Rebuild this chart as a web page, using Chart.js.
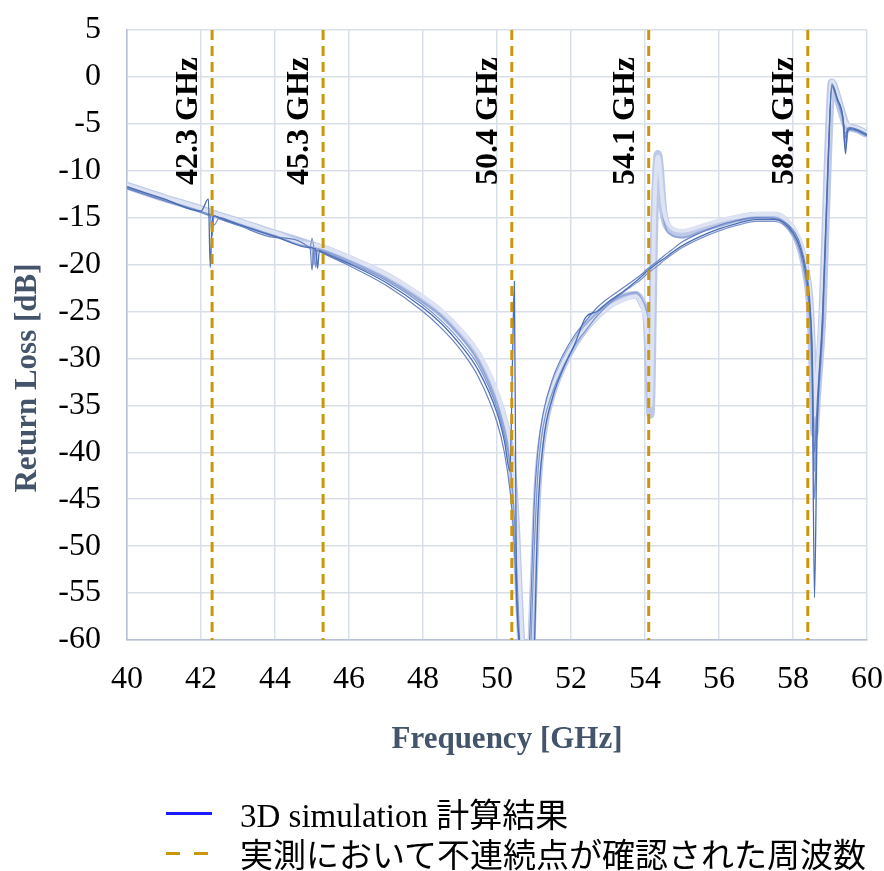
<!DOCTYPE html>
<html>
<head>
<meta charset="utf-8">
<script src="https://cdn.jsdelivr.net/npm/chart.js@4"></script>
<style>
  html, body { margin: 0; padding: 0; background: #fff; }
  #wrap { position: relative; width: 884px; height: 871px; }
  #legend { position: absolute; left: 166px; top: 793px; font-family: "Liberation Serif", "Noto Sans CJK JP", serif; font-size: 33px; color: #000; }
  .row { display: flex; align-items: center; height: 40px; white-space: nowrap; }
  .sym { width: 46px; margin-right: 28px; height: 3px; }
  .solid { background: #1a1aff; }
  .dash { background: linear-gradient(to right, #c9960c 0 14px, transparent 14px 28px, #c9960c 28px 42px, transparent 42px); }
</style>
</head>
<body>
<div id="wrap">
  <canvas id="rlChart" width="884" height="871"></canvas>
  <div id="legend">
    <div class="row"><span class="sym solid"></span><span>3D simulation 計算結果</span></div>
    <div class="row"><span class="sym dash"></span><span>実測において不連続点が確認された周波数</span></div>
  </div>
</div>
<script>
// frequency points [GHz], shared by all simulation curves
const freq = [
    40, 41, 42, 42.2, 42.25, 42.3, 42.35, 42.5,
    43, 44, 44.95, 45.0, 45.05, 45.1, 45.15, 45.2, 45.3, 46,
    47, 48, 48.5, 49, 49.5, 50, 50.2, 50.35, 50.42, 50.47, 50.52,
    50.6, 50.7, 50.8, 50.9, 51.0, 51.1, 51.25, 51.5, 51.8, 52.1, 52.4, 52.7, 53, 53.4,
    53.75, 53.95, 54.05, 54.15, 54.25, 54.35, 54.5, 54.7, 55, 55.5, 56, 56.5, 57, 57.5,
    58, 58.2, 58.35, 58.45, 58.52, 58.58, 58.65, 58.8, 58.95,
    59.05, 59.2, 59.35, 59.42, 59.47, 59.55, 59.75, 60
];

// return loss [dB] of each simulated variant
const simA = [
    -11.6, -12.9, -14.1, -14.4, -14.5, -14.6, -14.6, -14.8,
    -15.4, -16.7, -17.9, -18.0, -18.0, -18.1, -18.1, -18.2, -18.3, -19.4,
    -21.2, -23.7, -25.2, -27.2, -29.8, -34.2, -36.8, -39.5, -42.2, -45, -48.5,
    -56, -63, -65, -63, -53, -43.5, -37.8, -33.6, -30.6, -28.4, -26.7, -25.4, -24.4, -23.5,
    -23.2, -24.3, -26, -36, -16, -8.2, -14.5, -16.3, -16.8, -16.2, -15.6, -15.1, -14.8, -14.8,
    -16.4, -18.2, -20.8, -24, -30, -38, -34, -25, -8,
    -0.6, -2.2, -4.2, -5, -5.3, -5.4, -5.6, -6.1
];
const simB = [
    -11.8, -13.0, -14.3, -14.5, -14.6, -14.7, -14.7, -14.9,
    -15.6, -16.9, -18.0, -18.1, -20.0, -18.2, -18.3, -18.4, -18.5, -19.6,
    -21.5, -24.0, -25.5, -27.6, -30.3, -34.8, -37.5, -40.3, -43, -46, -50,
    -58, -64, -66, -60, -49, -41.5, -36.5, -32.8, -30.0, -28.0, -26.4, -25.2, -24.2, -23.3,
    -23.0, -24.0, -25.5, -34, -13, -8.6, -15, -16.8, -17.1, -16.5, -15.9, -15.3, -15.0, -15.0,
    -16.7, -18.6, -21.5, -25, -32, -42, -36, -26, -9,
    -1.0, -2.5, -4.5, -7.5, -6, -5.6, -5.8, -6.3
];
const simC = [
    -11.7, -13.0, -14.3, -13.0, -20.3, -15.5, -14.8, -15.0,
    -15.7, -17.0, -18.2, -18.2, -18.3, -18.3, -20.4, -18.5, -18.7, -19.9,
    -21.9, -24.6, -26.3, -28.5, -31.3, -35.8, -38.8, -42, -30, -21.8, -52,
    -60, -65, -66, -66, -62, -47, -39, -34.2, -31, -28.5, -25.6, -25, -24.0, -22.9,
    -21.8, -21.1, -20.7, -20.4, -20.1, -19.8, -19.4, -18.8, -18.0, -17.0, -16.2, -15.6, -15.2, -15.2,
    -16.6, -18.3, -21, -24.5, -31, -55.5, -38, -26, -9,
    -0.9, -2.4, -4.4, -8.2, -5.8, -5.5, -5.7, -6.2
];
const simD = [
    -11.9, -13.2, -14.4, -14.7, -14.7, -17, -14.8, -15.1,
    -15.8, -17.1, -18.3, -20.6, -18.4, -18.5, -18.5, -18.6, -18.8, -20.1,
    -22.2, -25.0, -26.8, -29.0, -32, -36.8, -40, -44, -47, -50, -55,
    -61, -66, -66, -58, -46, -40, -35.8, -32.2, -29.5, -27.5, -26.0, -24.6, -23.6, -22.5,
    -21.5, -20.9, -20.5, -20.2, -19.9, -19.6, -19.1, -18.5, -17.6, -16.6, -15.8, -15.3, -15.0, -15.1,
    -16.3, -17.9, -20.4, -23.5, -29, -40, -35, -25, -8.5,
    -0.7, -2.3, -4.3, -6.5, -5.5, -5.4, -5.6, -6.1
];
const simE = [
    -11.5, -12.8, -14.0, -14.3, -14.3, -14.4, -14.5, -14.7,
    -15.3, -16.6, -17.8, -17.8, -17.9, -17.9, -18.0, -18.0, -18.1, -19.2,
    -21.0, -23.4, -24.9, -26.9, -29.4, -33.6, -36.2, -38.8, -41.2, -43.8, -47,
    -54, -62, -64, -60, -50, -42.5, -37, -33.2, -30.4, -28.3, -26.8, -25.6, -24.6, -23.8,
    -23.4, -24.8, -27, -35, -14.5, -8.5, -14, -16.0, -16.4, -15.9, -15.3, -14.9, -14.6, -14.6,
    -16.0, -17.6, -20.2, -23, -28, -36, -32, -23, -7,
    -0.5, -2.0, -4.0, -4.9, -5.1, -5.3, -5.5, -6.0
];
const simF = [
    -11.8, -13.1, -14.4, -14.6, -14.7, -14.8, -15.8, -15.0,
    -15.7, -17.0, -18.1, -17.2, -18.2, -20.3, -18.4, -18.5, -18.6, -19.8,
    -21.7, -24.3, -26.0, -28.1, -30.8, -35.3, -38.2, -41.2, -44, -47, -51,
    -59, -65, -66, -62, -51, -42.5, -37.2, -33.6, -30.8, -28.6, -27.0, -25.5, -24.3, -23.0,
    -22.0, -21.4, -21.0, -20.7, -20.4, -20.1, -19.6, -19.0, -18.2, -17.2, -16.4, -15.8, -15.4, -15.4,
    -16.9, -18.8, -21.8, -25.5, -33, -45, -37, -27, -10,
    -1.1, -2.6, -4.6, -6, -5.7, -5.6, -5.8, -6.3
];

// frequencies where the measurement showed discontinuities
const discFreqs = [42.3, 45.3, 50.4, 54.1, 58.4];
const discLabels = ['42.3 GHz', '45.3 GHz', '50.4 GHz', '54.1 GHz', '58.4 GHz'];

const xTitle = 'Frequency [GHz]';
const yTitle = 'Return Loss [dB]';

function toPoints(ys) {
    return freq.map((f, i) => ({ x: f, y: ys[i] }));
}

function simSet(ys, color, width, order) {
    return {
        data: toPoints(ys),
        borderColor: color,
        borderWidth: width,
        pointRadius: 0,
        cubicInterpolationMode: 'monotone',
        clip: 0,
        order: order
    };
}

const datasets = [
    simSet(simA, '#bdc9e7', 8, 7),
    simSet(simB, '#94a9d9', 2, 6),
    simSet(simE, '#dde3f2', 4, 5),
    simSet(simF, '#7e96cd', 1.2, 4),
    simSet(simD, '#6883c4', 1.2, 3),
    simSet(simC, '#4a6db3', 1.3, 2)
];
discFreqs.forEach(f => {
    datasets.push({
        data: [{ x: f, y: 5 }, { x: f, y: -60 }],
        borderColor: '#c9960c',
        borderWidth: 3,
        borderDash: [10, 6],
        pointRadius: 0,
        order: 0
    });
});

const textPlugin = {
    id: 'textPlugin',
    afterDraw(chart) {
        const ctx = chart.ctx;
        const area = chart.chartArea;
        const xs = chart.scales.x;
        ctx.save();
        ctx.fillStyle = '#000';
        ctx.font = 'bold 32px "Liberation Serif"';
        ctx.textAlign = 'left';
        ctx.textBaseline = 'alphabetic';
        discFreqs.forEach((f, i) => {
            ctx.save();
            ctx.translate(xs.getPixelForValue(f) - 15, area.top + 155);
            ctx.rotate(-Math.PI / 2);
            ctx.fillText(discLabels[i], 0, 0);
            ctx.restore();
        });

        // axis titles
        ctx.fillStyle = '#44546a';
        ctx.font = 'bold 31px "Liberation Serif"';
        ctx.textAlign = 'center';
        ctx.textBaseline = 'middle';
        ctx.fillText(xTitle, (area.left + area.right) / 2 + 10, 740);
        ctx.translate(28, (area.top + area.bottom) / 2 + 43);
        ctx.rotate(-Math.PI / 2);
        ctx.fillText(yTitle, 0, 0);
        ctx.restore();
    }
};

const ctx = document.getElementById('rlChart').getContext('2d');
new Chart(ctx, {
    type: 'line',
    data: { datasets: datasets },
    plugins: [textPlugin],
    options: {
        responsive: false,
        animation: false,
        layout: { padding: { top: 30, right: 17, bottom: 101, left: 0 } },
        plugins: {
            legend: { display: false },
            tooltip: { enabled: false }
        },
        scales: {
            x: {
                type: 'linear',
                min: 40,
                max: 60,
                afterFit: scale => {
                    scale.height = 130;
                    scale.paddingLeft = 0;
                    scale.paddingRight = 0;
                },
                ticks: {
                    stepSize: 2,
                    padding: 20,
                    color: '#000',
                    font: { family: 'Liberation Serif', size: 32 }
                },
                grid: { color: '#d9dfe9', lineWidth: 1.5, drawTicks: false },
                border: { color: '#b7c1d5', width: 1.5 }
            },
            y: {
                min: -60,
                max: 5,
                afterFit: scale => {
                    scale.width = 127;
                    scale.paddingTop = 0;
                    scale.paddingBottom = 0;
                },
                ticks: {
                    stepSize: 5,
                    padding: 26,
                    color: '#000',
                    font: { family: 'Liberation Serif', size: 32 }
                },
                grid: { color: '#d9dfe9', lineWidth: 1.5, drawTicks: false },
                border: { color: '#b7c1d5', width: 1.5 }
            }
        }
    }
});
</script>
</body>
</html>
